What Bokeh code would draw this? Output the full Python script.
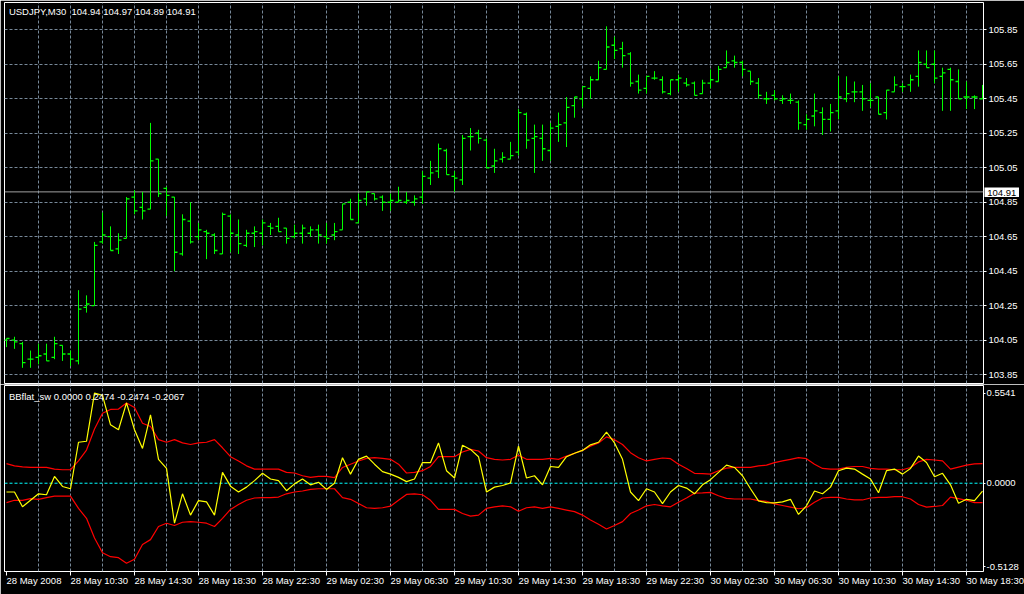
from bokeh.plotting import figure
from bokeh.layouts import column
from bokeh.models import (ColumnDataSource, Range1d, FixedTicker, Grid, Span, Label,
                          PrintfTickFormatter)
from bokeh.transform import dodge
from bokeh.embed import file_html
from bokeh.resources import INLINE

# ---------------- data ----------------
symbol_title = "USDJPY,M30  104.94 104.97 104.89 104.91"
indicator_title = "BBflat_sw 0.0000 0.2474 -0.2474 -0.2067"
last_price = 104.91
zero_level = 0.0

opens = [
    104.05, 104.05, 104.03, 103.94, 103.95, 103.97, 103.95, 104.02, 103.97, 103.93,
    104.24, 104.25, 104.62, 104.65, 104.58, 104.64, 104.88, 104.82, 104.81, 105.10,
    104.93, 104.88, 104.55, 104.74, 104.65, 104.68, 104.66, 104.55, 104.77, 104.66,
    104.60, 104.67, 104.67, 104.71, 104.71, 104.70, 104.65, 104.67, 104.67, 104.69,
    104.65, 104.66, 104.69, 104.85, 104.73, 104.87, 104.90, 104.88, 104.85, 104.85,
    104.85, 104.85, 104.88, 104.99, 105.03, 105.15, 105.00, 104.98, 105.23, 105.25,
    105.21, 105.06, 105.10, 105.10, 105.14, 105.36, 105.22, 105.22, 105.15, 105.29,
    105.31, 105.41, 105.45, 105.51, 105.56, 105.62, 105.76, 105.74, 105.71, 105.55,
    105.51, 105.57, 105.56, 105.48, 105.56, 105.54, 105.54, 105.48, 105.54, 105.55,
    105.63, 105.67, 105.66, 105.61, 105.54, 105.45, 105.47, 105.44, 105.44, 105.43,
    105.30, 105.35, 105.37, 105.33, 105.38, 105.45, 105.49, 105.49, 105.44, 105.46,
    105.37, 105.49, 105.52, 105.53, 105.58, 105.65, 105.65, 105.58, 105.62, 105.55,
    105.46, 105.46, 105.45]

highs = [
    104.06, 104.07, 104.04, 103.99, 104.03, 104.03, 104.07, 104.02, 103.99, 104.34,
    104.31, 104.62, 104.79, 104.71, 104.67, 104.88, 104.92, 104.91, 105.31, 105.10,
    104.94, 104.88, 104.78, 104.85, 104.73, 104.69, 104.67, 104.79, 104.78, 104.75,
    104.69, 104.71, 104.75, 104.73, 104.76, 104.70, 104.72, 104.72, 104.71, 104.72,
    104.73, 104.73, 104.84, 104.87, 104.90, 104.91, 104.90, 104.89, 104.90, 104.94,
    104.91, 104.89, 105.03, 105.09, 105.19, 105.16, 105.03, 105.24, 105.28, 105.27,
    105.22, 105.16, 105.14, 105.20, 105.39, 105.37, 105.30, 105.30, 105.31, 105.37,
    105.46, 105.46, 105.52, 105.58, 105.67, 105.87, 105.81, 105.78, 105.72, 105.59,
    105.58, 105.61, 105.58, 105.56, 105.59, 105.57, 105.55, 105.56, 105.62, 105.64,
    105.73, 105.70, 105.67, 105.61, 105.57, 105.49, 105.50, 105.47, 105.48, 105.44,
    105.36, 105.48, 105.40, 105.42, 105.58, 105.58, 105.55, 105.53, 105.54, 105.46,
    105.50, 105.58, 105.54, 105.59, 105.73, 105.73, 105.73, 105.63, 105.63, 105.62,
    105.55, 105.47, 105.53]

lows = [
    104.01, 104.00, 103.89, 103.89, 103.91, 103.93, 103.94, 103.93, 103.90, 103.91,
    104.21, 104.25, 104.61, 104.57, 104.55, 104.64, 104.78, 104.75, 104.81, 104.88,
    104.77, 104.45, 104.54, 104.61, 104.63, 104.52, 104.55, 104.55, 104.56, 104.55,
    104.59, 104.59, 104.60, 104.66, 104.68, 104.61, 104.64, 104.61, 104.65, 104.61,
    104.61, 104.63, 104.69, 104.75, 104.73, 104.83, 104.86, 104.80, 104.80, 104.85,
    104.84, 104.83, 104.84, 104.95, 104.99, 105.01, 104.91, 104.95, 105.15, 105.19,
    105.05, 105.02, 105.08, 105.10, 105.12, 105.16, 105.02, 105.09, 105.09, 105.20,
    105.17, 105.34, 105.40, 105.45, 105.56, 105.62, 105.68, 105.63, 105.52, 105.48,
    105.48, 105.56, 105.48, 105.47, 105.49, 105.52, 105.47, 105.48, 105.51, 105.55,
    105.63, 105.63, 105.58, 105.53, 105.45, 105.42, 105.44, 105.42, 105.42, 105.27,
    105.27, 105.29, 105.24, 105.26, 105.33, 105.43, 105.43, 105.38, 105.40, 105.36,
    105.33, 105.49, 105.49, 105.49, 105.52, 105.63, 105.54, 105.38, 105.38, 105.45,
    105.39, 105.39, 105.45]

closes = [
    104.06, 104.04, 103.92, 103.94, 103.96, 103.93, 104.03, 103.97, 103.94, 104.23,
    104.26, 104.60, 104.66, 104.57, 104.63, 104.87, 104.80, 104.80, 105.09, 104.90,
    104.89, 104.56, 104.75, 104.62, 104.69, 104.67, 104.57, 104.78, 104.67, 104.61,
    104.67, 104.68, 104.73, 104.70, 104.68, 104.64, 104.67, 104.70, 104.69, 104.66,
    104.64, 104.68, 104.84, 104.75, 104.86, 104.91, 104.87, 104.85, 104.86, 104.86,
    104.86, 104.87, 105.00, 105.02, 105.16, 105.01, 104.99, 105.22, 105.23, 105.22,
    105.05, 105.09, 105.11, 105.12, 105.37, 105.21, 105.23, 105.16, 105.28, 105.30,
    105.40, 105.46, 105.52, 105.56, 105.63, 105.75, 105.73, 105.70, 105.54, 105.50,
    105.58, 105.57, 105.49, 105.56, 105.57, 105.53, 105.47, 105.54, 105.56, 105.62,
    105.66, 105.66, 105.62, 105.55, 105.47, 105.45, 105.45, 105.45, 105.44, 105.31,
    105.33, 105.38, 105.33, 105.37, 105.46, 105.48, 105.49, 105.45, 105.44, 105.36,
    105.50, 105.53, 105.52, 105.56, 105.66, 105.63, 105.57, 105.60, 105.56, 105.45,
    105.46, 105.46, 105.45]

bb_value = [
    -0.054, -0.054, -0.145, -0.105, -0.065, -0.071, 0.042, -0.020, -0.034, 0.252,
    0.258, 0.554, 0.540, 0.359, 0.329, 0.494, 0.329, 0.214, 0.420, 0.147,
    0.091, -0.246, -0.065, -0.196, -0.107, -0.115, -0.196, 0.067, -0.018, -0.054,
    -0.024, 0.016, 0.061, 0.026, 0.016, -0.046, -0.004, 0.026, -0.010, 0.006,
    -0.038, 0.000, 0.157, 0.056, 0.147, 0.167, 0.117, 0.071, 0.056, 0.036,
    0.010, 0.026, 0.127, 0.127, 0.248, 0.077, 0.032, 0.234, 0.208, 0.163,
    -0.054, -0.024, -0.014, 0.002, 0.228, 0.032, 0.046, -0.010, 0.103, 0.097,
    0.163, 0.184, 0.202, 0.236, 0.252, 0.315, 0.248, 0.147, -0.054, -0.107,
    -0.034, -0.054, -0.125, -0.054, -0.014, -0.030, -0.065, -0.010, 0.022, 0.067,
    0.111, 0.097, 0.046, -0.034, -0.109, -0.119, -0.121, -0.115, -0.099, -0.192,
    -0.139, -0.048, -0.065, -0.024, 0.077, 0.093, 0.087, 0.056, 0.026, -0.059,
    0.077, 0.087, 0.056, 0.091, 0.167, 0.127, 0.040, 0.061, -0.010, -0.123,
    -0.099, -0.107, -0.048]

bb_upper = [
    0.121, 0.107, 0.101, 0.097, 0.097, 0.097, 0.087, 0.083, 0.083, 0.137,
    0.204, 0.333, 0.430, 0.454, 0.456, 0.494, 0.466, 0.369, 0.349, 0.268,
    0.252, 0.268, 0.248, 0.238, 0.248, 0.252, 0.268, 0.218, 0.163, 0.137,
    0.107, 0.087, 0.087, 0.087, 0.087, 0.067, 0.063, 0.046, 0.036, 0.042,
    0.042, 0.034, 0.097, 0.117, 0.137, 0.153, 0.157, 0.153, 0.147, 0.117,
    0.063, 0.067, 0.077, 0.103, 0.163, 0.163, 0.163, 0.192, 0.208, 0.198,
    0.157, 0.147, 0.143, 0.147, 0.172, 0.147, 0.147, 0.147, 0.153, 0.147,
    0.167, 0.184, 0.202, 0.228, 0.248, 0.285, 0.268, 0.238, 0.188, 0.157,
    0.137, 0.147, 0.155, 0.151, 0.117, 0.091, 0.061, 0.059, 0.056, 0.077,
    0.093, 0.097, 0.097, 0.097, 0.107, 0.111, 0.127, 0.137, 0.147, 0.157,
    0.151, 0.117, 0.091, 0.087, 0.087, 0.097, 0.103, 0.103, 0.091, 0.087,
    0.087, 0.083, 0.083, 0.097, 0.131, 0.147, 0.143, 0.137, 0.087, 0.099,
    0.111, 0.119, 0.121]

bb_lower = [
    -0.119, -0.105, -0.105, -0.095, -0.099, -0.089, -0.079, -0.079, -0.079, -0.155,
    -0.216, -0.337, -0.428, -0.452, -0.458, -0.492, -0.468, -0.377, -0.347, -0.266,
    -0.246, -0.260, -0.240, -0.236, -0.240, -0.246, -0.266, -0.216, -0.161, -0.131,
    -0.105, -0.091, -0.089, -0.089, -0.085, -0.065, -0.054, -0.048, -0.038, -0.034,
    -0.034, -0.034, -0.089, -0.099, -0.125, -0.151, -0.155, -0.151, -0.141, -0.105,
    -0.069, -0.065, -0.071, -0.105, -0.161, -0.161, -0.161, -0.186, -0.202, -0.196,
    -0.155, -0.145, -0.139, -0.145, -0.172, -0.151, -0.145, -0.155, -0.145, -0.155,
    -0.165, -0.175, -0.196, -0.226, -0.252, -0.282, -0.260, -0.236, -0.186, -0.165,
    -0.139, -0.131, -0.139, -0.145, -0.117, -0.091, -0.061, -0.059, -0.056, -0.077,
    -0.093, -0.097, -0.097, -0.097, -0.107, -0.111, -0.127, -0.137, -0.147, -0.157,
    -0.151, -0.117, -0.091, -0.087, -0.087, -0.097, -0.103, -0.103, -0.091, -0.087,
    -0.087, -0.083, -0.083, -0.097, -0.131, -0.147, -0.143, -0.137, -0.085, -0.095,
    -0.105, -0.119, -0.119]

price_ticks = [103.85, 104.05, 104.25, 104.45, 104.65, 104.85,
               105.05, 105.25, 105.45, 105.65, 105.85]
indicator_ticks = [0.5541, 0.0, -0.5128]

time_labels = ["28 May 2008", "28 May 10:30", "28 May 14:30", "28 May 18:30",
               "28 May 22:30", "29 May 02:30", "29 May 06:30", "29 May 10:30",
               "29 May 14:30", "29 May 18:30", "29 May 22:30", "30 May 02:30",
               "30 May 06:30", "30 May 10:30", "30 May 14:30", "30 May 18:30"]
label_bars = [0, 8, 16, 24, 32, 40, 48, 56, 64, 72, 80, 88, 96, 104, 112, 120]
grid_bars = [4, 8, 12, 16, 20, 24, 28, 32, 36, 40, 44, 48, 52, 56, 60, 64, 68, 72,
             76, 80, 84, 88, 92, 96, 100, 104, 108, 112, 116, 120]

# ---------------- style ----------------
FONT = "Liberation Sans"
FS = "9.5px"
GRID = "#778899"
BAR = "#00ff00"

bars = list(range(len(opens)))
src = ColumnDataSource(dict(bar=bars, open=opens, high=highs, low=lows, close=closes,
                            value=bb_value, upper=bb_upper, lower=bb_lower))

x_range = Range1d(-0.25, 122.125)


def make_fig(height, y_range, top, bottom, xloc):
    p = figure(width=1024, height=height, x_range=x_range, y_range=y_range,
               output_backend="svg", toolbar_location=None,
               x_axis_location=xloc, y_axis_location="right",
               background_fill_color="black", border_fill_color="black",
               min_border_left=4, min_border_right=41,
               min_border_top=top, min_border_bottom=bottom)
    p.title.visible = False
    p.outline_line_color = "white"
    p.outline_line_width = 1
    p.grid.visible = False
    p.add_layout(Grid(dimension=0, ticker=FixedTicker(ticks=grid_bars),
                      grid_line_color=GRID, grid_line_dash="3 2", grid_line_width=1))
    return p


def style_yaxis(p, ticks, fmt, tick_out, standoff):
    ax = p.yaxis[0]
    ax.ticker = FixedTicker(ticks=ticks)
    ax.formatter = PrintfTickFormatter(format=fmt)
    ax.axis_line_color = None
    ax.major_tick_line_color = "white"
    ax.major_tick_in = 0
    ax.major_tick_out = tick_out
    ax.minor_tick_line_color = None
    ax.major_label_text_color = "white"
    ax.major_label_text_font = FONT
    ax.major_label_text_font_size = FS
    ax.major_label_standoff = standoff


# ---------------- price window ----------------
pA = make_fig(384, Range1d(103.799, 106.008), 2, 1, None)
style_yaxis(pA, price_ticks, "%.2f", 3, 2)
pA.add_layout(Grid(dimension=1, ticker=FixedTicker(ticks=price_ticks),
                   grid_line_color=GRID, grid_line_dash="3 2", grid_line_width=1))
pA.add_layout(Span(location=last_price, dimension="width", line_color="#a0a0a0",
                   line_width=1, level="underlay"))

pA.segment(x0="bar", y0="low", x1="bar", y1="high", source=src,
           line_color=BAR, line_width=1)
pA.segment(x0=dodge("bar", -0.375), y0="open", x1="bar", y1="open", source=src,
           line_color=BAR, line_width=1.3)
pA.segment(x0="bar", y0="close", x1=dodge("bar", 0.375), y1="close", source=src,
           line_color=BAR, line_width=1.3)

pA.add_layout(Label(x=0.3, y=105.989, text=symbol_title.replace("  ", "\u00a0 "),
                    text_color="white", text_font=FONT, text_font_size=FS,
                    text_baseline="top", text_align="left"))

# ---------------- indicator window ----------------
pB = make_fig(210, Range1d(-0.5430, 0.6011), 1, 20, "below")
style_yaxis(pB, indicator_ticks, "%.4f", 2, 1)
xa = pB.xaxis[0]
xa.ticker = FixedTicker(ticks=label_bars)
xa.major_label_overrides = {b: t for b, t in zip(label_bars, time_labels)}
xa.major_label_orientation = -1e-6   # tiny negative angle -> labels start at the tick
xa.axis_line_color = None
xa.major_tick_line_color = "white"
xa.major_tick_in = 0
xa.major_tick_out = 4
xa.minor_tick_line_color = None
xa.major_label_standoff = 5
xa.major_label_text_color = "white"
xa.major_label_text_font = FONT
xa.major_label_text_font_size = FS

pB.add_layout(Span(location=zero_level, dimension="width", line_color="#00ffff",
                   line_dash="3 2", line_width=1, level="underlay"))
pB.line("bar", "upper", source=src, line_color="#ff0000", line_width=1.2)
pB.line("bar", "lower", source=src, line_color="#ff0000", line_width=1.2)
pB.line("bar", "value", source=src, line_color="#ffff00", line_width=1.2)

pB.add_layout(Label(x=0.3, y=0.567, text=indicator_title, text_color="white",
                    text_font=FONT, text_font_size=FS, text_baseline="top",
                    text_align="left"))

layout = column(pA, pB, spacing=0,
                styles={"position": "absolute", "left": "0px", "top": "0px"})

# ---------------- current price tag on the price scale ----------------
tag = figure(width=35, height=11, x_range=Range1d(0, 1),
             y_range=Range1d(last_price - 0.032, last_price + 0.032),
             output_backend="svg", toolbar_location=None,
             x_axis_location=None, y_axis_location=None,
             background_fill_color="white", border_fill_color="white", min_border=0,
             styles={"position": "absolute", "left": "984px", "top": "186px"})
tag.title.visible = False
tag.outline_line_color = None
tag.grid.visible = False
tag.add_layout(Label(x=0.08, y=last_price, text="%.2f" % last_price, text_color="black",
                     text_font=FONT, text_font_size=FS, text_baseline="middle",
                     text_align="left"))

open("out.html", "w").write(file_html([layout, tag], INLINE))
